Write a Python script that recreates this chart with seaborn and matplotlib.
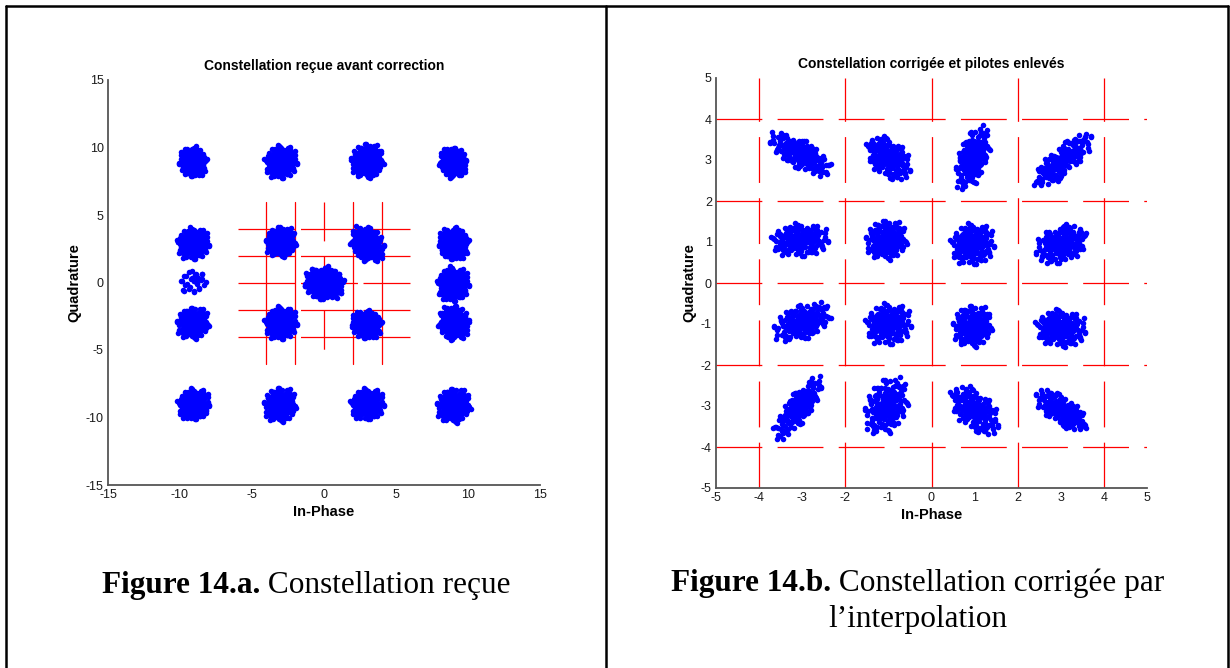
import numpy as np
import pandas as pd
import matplotlib
matplotlib.use("Agg")
import matplotlib.pyplot as plt
import seaborn as sns
from matplotlib.lines import Line2D

# normalised scatter shape of one received symbol cloud
tmpl_u = [0.1, -0.3, 0.6, -0.8, 1.1, -1.2, 0.4, -0.5, 0.9, -1.5,
          1.6, 0.2, -0.1, 1.3, -1.4, 0.7, -0.7, 0.3, -0.2, 0.5,
          -0.9, 1.9, -1.9, 0.8, -0.6, 2.2, -2.3, 0.0, 0.2, 1.5,
          -1.6, 1.0, -1.1, 2.0, -2.1, 0.4, -0.4, 1.2, -1.0, 0.0,
          0.3, -0.2, 0.9, -0.6, 0.1, -1.3, 1.4, -0.3, 0.6, -0.9,
          2.5, -2.6, 0.5, -0.4, 1.8, -1.7, 1.1, -1.2, 2.3, -2.4,
          0.15, -0.55, 0.75, -0.35, 0.45, -0.85, 1.05, -1.15, 0.25, -0.05,
          1.7, -1.8, 0.6, -0.7, 1.3, -1.5, 2.1, -2.0, 0.95, -0.95]
tmpl_v = [0.2, 0.5, -0.2, -0.4, 0.3, 0.9, 1.3, -1.1, -1.0, 0.1,
          -0.5, -1.6, 1.8, 1.2, -1.3, 0.6, 0.2, -0.6, -0.3, 0.0,
          1.4, 0.6, -0.6, -1.7, 1.9, -0.1, 0.4, -2.2, 2.4, -1.5,
          1.6, 1.9, -2.0, 1.4, -1.5, 0.9, -0.8, -0.3, 0.5, 0.0,
          0.4, 0.8, 0.1, -0.1, -1.0, -0.2, 0.8, 1.2, -1.3, -1.6,
          0.3, -0.2, 2.7, -2.6, -1.1, 1.1, -2.3, 2.2, -1.6, 1.7,
          -0.45, 0.65, 0.35, -0.55, -0.85, 0.95, -0.65, -0.95, 1.55, -1.35,
          0.2, -0.1, 1.6, -1.9, -1.9, 2.0, 0.9, -1.0, 1.05, -0.25]

# Figure 14.a : received constellation before correction
left_cx = [-9.1, -3.0, 3.0, 8.95, -9.1, -3.0, 3.0, 9.0, -9.1, 0.0, 0.0, 8.95,
           -9.1, -3.0, 2.95, 9.0, -9.05, -3.05, 3.0, 9.0]
left_cy = [8.95, 8.95, 9.0, 8.9, 2.9, 3.0, 2.85, 2.9, 0.05, -0.05, -0.05, -0.1,
           -3.0, -3.0, -3.1, -3.0, -9.0, -9.05, -9.0, -9.1]
left_sx = [0.36, 0.42, 0.42, 0.36, 0.42, 0.40, 0.44, 0.40, 0.50, 0.52, 0.50, 0.42,
           0.42, 0.42, 0.40, 0.40, 0.42, 0.42, 0.44, 0.44]
left_sy = [0.42, 0.46, 0.48, 0.42, 0.44, 0.42, 0.48, 0.46, 0.46, 0.46, 0.44, 0.48,
           0.44, 0.46, 0.40, 0.48, 0.44, 0.48, 0.44, 0.48]
left_tilt = [0, 0, 0, 0, 0, 0, -0.2, 0, 0, 0, 0, 0,
             0, 0, 0, 0, 0, 0, 0, 0]
left_n = [80, 80, 80, 80, 80, 80, 80, 80, 16, 80, 80, 80,
          80, 80, 80, 80, 80, 80, 80, 80]
left_fx = [1, -1, 1, -1, -1, 1, -1, 1, 1, 1, -1, -1, 1, -1, 1, -1, -1, 1, -1, 1]
left_fy = [1, 1, -1, -1, 1, -1, -1, 1, 1, 1, -1, 1, -1, 1, 1, -1, 1, -1, 1, -1]

# Figure 14.b : corrected constellation, pilots removed
right_cx = [-3.05, -1.0, 0.95, 3.05, -3.05, -1.05, 0.95, 3.0,
            -3.0, -1.0, 0.95, 3.0, -3.1, -1.05, 1.0, 3.0]
right_cy = [3.15, 3.05, 3.05, 3.0, 1.05, 1.05, 0.95, 0.95,
            -0.95, -1.0, -1.05, -1.1, -3.05, -3.0, -3.1, -3.1]
right_sx = [0.27, 0.19, 0.15, 0.25, 0.25, 0.18, 0.19, 0.22,
            0.25, 0.20, 0.17, 0.22, 0.21, 0.19, 0.21, 0.22]
right_sy = [0.14, 0.18, 0.25, 0.15, 0.15, 0.18, 0.19, 0.17,
            0.16, 0.19, 0.19, 0.17, 0.17, 0.25, 0.19, 0.14]
right_tilt = [-0.45, -0.5, 0.8, 0.8, 0.0, 0.0, 0.0, 0.3,
              0.25, 0.0, 0.0, -0.1, 1.0, 0.3, -0.6, -0.6]
right_n = [80] * 16
right_fx = [1, -1, 1, -1, -1, 1, -1, 1, 1, -1, 1, -1, -1, 1, -1, 1]
right_fy = [1, 1, -1, -1, 1, -1, 1, 1, -1, 1, -1, 1, 1, -1, 1, -1]

# decision grid drawn over each plot
left_grid = [-4, -2, 0, 2, 4]
left_span = 6
right_grid = [-4, -2, 0, 2, 4]
right_span = 5


def clouds(cx, cy, sx, sy, tilt, n, fx, fy):
    xs, ys = [], []
    for i in range(len(cx)):
        # template plus its transpose, to get a dense cloud
        for a, b in [(tmpl_u, tmpl_v), (tmpl_v, tmpl_u)]:
            du = np.array(a[:n[i]]) * fx[i] * sx[i]
            dv = np.array(b[:n[i]]) * fy[i] * sy[i]
            xs.append(cx[i] + du)
            ys.append(cy[i] + dv + tilt[i] * du)
    return pd.DataFrame({"I": np.concatenate(xs), "Q": np.concatenate(ys)})


left_df = clouds(left_cx, left_cy, left_sx, left_sy, left_tilt, left_n, left_fx, left_fy)
right_df = clouds(right_cx, right_cy, right_sx, right_sy, right_tilt, right_n, right_fx, right_fy)

sns.set_style("white")
plt.rcParams["font.family"] = ["Liberation Sans", "DejaVu Sans"]
plt.rcParams["lines.scale_dashes"] = False
plt.rcParams["axes.unicode_minus"] = False
plt.rcParams["text.color"] = "black"
plt.rcParams["axes.labelcolor"] = "black"

W, H = 1230, 668
fig = plt.figure(figsize=(W / 100, H / 100), dpi=100)
ax1 = fig.add_axes([108 / W, 1 - 485 / H, 432 / W, 405 / H])
ax2 = fig.add_axes([716 / W, 1 - 488 / H, 431 / W, 410 / H])

# red grid, left panel
for g in left_grid:
    ax1.plot([-left_span, left_span], [g, g], color="red", lw=0.9,
             ls=(0, (41, 4)), zorder=1)
    if g == 0:
        ax1.plot([g, g], [left_span, -left_span], color="red", lw=0.9,
                 ls=(0, (28, 11)), zorder=1)
    else:
        ax1.plot([g, g], [-left_span, left_span], color="red", lw=0.9, zorder=1)

# red grid, right panel
for g in right_grid:
    ax2.plot([-right_span, right_span], [g, g], color="red", lw=0.9,
             ls=(0, (33, 11)), zorder=1)
    ax2.plot([g, g], [-right_span, right_span], color="red", lw=0.9,
             ls=(0, (33, 11)), zorder=1)

sns.scatterplot(data=left_df, x="I", y="Q", ax=ax1, color="blue", s=16,
                linewidth=0, zorder=3)
sns.scatterplot(data=right_df, x="I", y="Q", ax=ax2, color="blue", s=16,
                linewidth=0, zorder=3)

setup = [
    (ax1, 15, 5, "Constellation reçue avant correction"),
    (ax2, 5, 1, "Constellation corrigée et pilotes enlevés"),
]
for ax, lim, step, title in setup:
    ax.set_xlim(-lim, lim)
    ax.set_ylim(-lim, lim)
    ax.set_xticks(np.arange(-lim, lim + step, step))
    ax.set_yticks(np.arange(-lim, lim + step, step))
    ax.tick_params(direction="in", length=3, width=0.8, color="#404040",
                   labelsize=9, pad=3, labelcolor="#1a1a1a")
    for side in ["top", "right"]:
        ax.spines[side].set_visible(False)
    for side in ["left", "bottom"]:
        ax.spines[side].set_color("#555555")
        ax.spines[side].set_linewidth(1.3)
    ax.set_title(title, fontsize=10, fontweight="bold", pad=7)
    ax.set_xlabel("In-Phase", fontsize=10.5, fontweight="bold", labelpad=3)
    ax.set_ylabel("Quadrature", fontsize=10.5, fontweight="bold", labelpad=3)

# table borders
for xs, ys in [([6, 1228], [6, 6]), ([6, 6], [6, 668]),
               ([1228, 1228], [6, 668]), ([606, 606], [6, 668])]:
    fig.add_artist(Line2D([x / W for x in xs], [1 - y / H for y in ys],
                          color="black", lw=1.8, transform=fig.transFigure))

renderer = fig.canvas.get_renderer()


def caption(cx, base, bold, rest):
    t1 = fig.text(0, 1 - base / H, bold, family="Liberation Serif",
                  fontweight="bold", fontsize=22.5, va="baseline", ha="left")
    t2 = fig.text(0, 1 - base / H, rest, family="Liberation Serif",
                  fontsize=22.5, va="baseline", ha="left")
    w1 = t1.get_window_extent(renderer).width
    w2 = t2.get_window_extent(renderer).width
    x0 = cx - (w1 + w2) / 2
    t1.set_x(x0 / W)
    t2.set_x((x0 + w1) / W)


caption(306, 593, "Figure 14.a.", " Constellation reçue")
caption(918, 591, "Figure 14.b.", " Constellation corrigée par")
fig.text(918 / W, 1 - 627 / H, "l’interpolation", family="Liberation Serif",
         fontsize=22.5, va="baseline", ha="center")

fig.savefig("out.png", dpi=100)
